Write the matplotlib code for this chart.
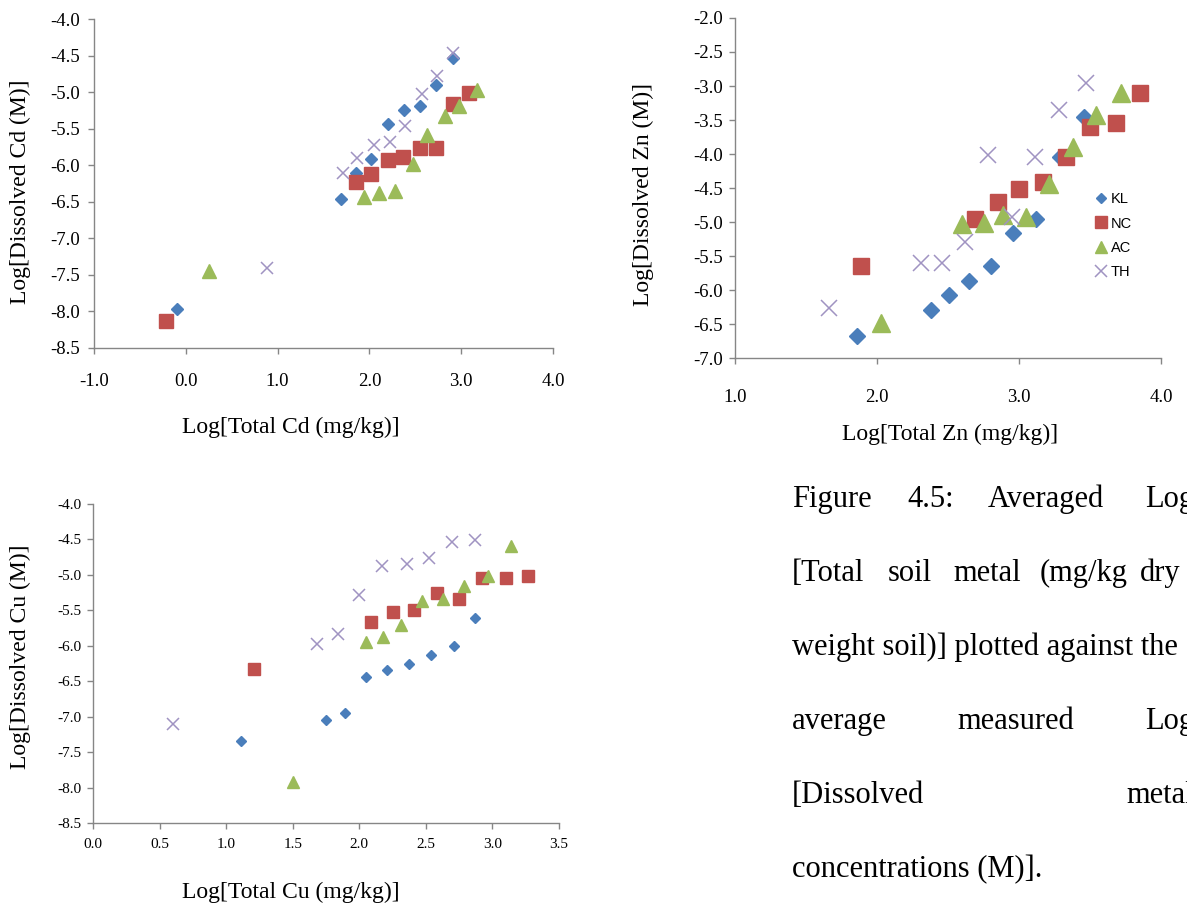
import matplotlib
matplotlib.use("Agg")
import matplotlib.pyplot as plt

# ---- data ----
# Cd panel
cd_kl_x = [-0.10, 1.69, 1.85, 2.02, 2.20, 2.38, 2.55, 2.73, 2.91]
cd_kl_y = [-7.97, -6.46, -6.11, -5.92, -5.44, -5.24, -5.19, -4.90, -4.54]
cd_nc_x = [-0.22, 1.85, 2.02, 2.20, 2.37, 2.55, 2.73, 2.91, 3.08]
cd_nc_y = [-8.13, -6.23, -6.12, -5.93, -5.89, -5.77, -5.77, -5.16, -5.01]
cd_ac_x = [0.25, 1.94, 2.11, 2.28, 2.47, 2.63, 2.82, 2.98, 3.17]
cd_ac_y = [-7.44, -6.44, -6.38, -6.35, -5.98, -5.59, -5.32, -5.19, -4.97]
cd_th_x = [0.88, 1.71, 1.87, 2.05, 2.22, 2.39, 2.57, 2.74, 2.91]
cd_th_y = [-7.40, -6.10, -5.90, -5.72, -5.68, -5.47, -5.03, -4.78, -4.47]

# Zn panel
zn_kl_x = [1.86, 2.38, 2.51, 2.65, 2.80, 2.96, 3.12, 3.29, 3.46]
zn_kl_y = [-6.67, -6.29, -6.07, -5.87, -5.65, -5.16, -4.95, -4.05, -3.45]
zn_nc_x = [1.89, 2.69, 2.85, 3.00, 3.17, 3.33, 3.50, 3.68, 3.85]
zn_nc_y = [-5.64, -4.96, -4.70, -4.52, -4.41, -4.04, -3.61, -3.54, -3.11]
zn_ac_x = [2.03, 2.60, 2.75, 2.89, 3.05, 3.21, 3.38, 3.54, 3.72]
zn_ac_y = [-6.48, -5.03, -5.02, -4.90, -4.92, -4.44, -3.90, -3.43, -3.10]
zn_th_x = [1.66, 2.31, 2.46, 2.62, 2.78, 2.95, 3.11, 3.28, 3.47]
zn_th_y = [-6.26, -5.60, -5.60, -5.29, -4.02, -4.92, -4.05, -3.36, -2.95]

# Cu panel
cu_kl_x = [1.11, 1.75, 1.89, 2.05, 2.21, 2.37, 2.54, 2.71, 2.87]
cu_kl_y = [-7.35, -7.05, -6.95, -6.44, -6.34, -6.26, -6.13, -6.00, -5.61]
cu_nc_x = [1.21, 2.09, 2.25, 2.41, 2.58, 2.75, 2.92, 3.10, 3.27]
cu_nc_y = [-6.33, -5.67, -5.52, -5.50, -5.26, -5.34, -5.04, -5.04, -5.02]
cu_ac_x = [1.50, 2.05, 2.18, 2.31, 2.47, 2.63, 2.79, 2.97, 3.14]
cu_ac_y = [-7.92, -5.94, -5.88, -5.70, -5.37, -5.34, -5.16, -5.02, -4.59]
cu_th_x = [0.60, 1.68, 1.84, 2.00, 2.17, 2.36, 2.52, 2.70, 2.87]
cu_th_y = [-7.10, -5.98, -5.84, -5.29, -4.87, -4.84, -4.76, -4.53, -4.51]

W, H = 1187, 908
SERIF = "Liberation Serif"
GREY = "#868686"
C_KL, C_NC, C_AC, C_TH = "#4a7ebb", "#c0504d", "#9bbb59", "#a093c2"

fig = plt.figure(figsize=(W / 100, H / 100), dpi=100)


def px_axes(l, t, r, b):
    return fig.add_axes([l / W, 1 - b / H, (r - l) / W, (b - t) / H])


def style(ax, xlim, ylim, xticks, yticks, fs, xpad, ypad):
    ax.set_xlim(*xlim)
    ax.set_ylim(*ylim)
    ax.set_xticks(xticks)
    ax.set_yticks(yticks)
    ax.set_xticklabels(["{:.1f}".format(v) for v in xticks], family=SERIF)
    ax.set_yticklabels(["{:.1f}".format(v) for v in yticks], family=SERIF)
    for s in ("top", "right"):
        ax.spines[s].set_visible(False)
    for s in ("left", "bottom"):
        ax.spines[s].set_color(GREY)
        ax.spines[s].set_linewidth(1.0)
    ax.tick_params(axis="both", direction="out", length=4, width=1, color=GREY,
                   labelsize=fs, labelcolor="black")
    ax.tick_params(axis="x", pad=xpad)
    ax.tick_params(axis="y", pad=ypad)
    ax.patch.set_alpha(0)


def draw(ax, kl, nc, ac, th, sq, tri, dia, xs):
    ax.plot(*kl, ls="none", marker="D", ms=dia, color=C_KL, mec=C_KL, label="KL", zorder=3)
    ax.plot(*nc, ls="none", marker="s", ms=sq, color=C_NC, mec=C_NC, label="NC", zorder=3)
    ax.plot(*ac, ls="none", marker="^", ms=tri, color=C_AC, mec=C_AC, label="AC", zorder=3)
    ax.plot(*th, ls="none", marker="x", ms=xs, mew=1.1, color=C_TH, label="TH", zorder=4)


# --- Cd ---
ax1 = px_axes(94, 19, 553, 348)
draw(ax1, (cd_kl_x, cd_kl_y), (cd_nc_x, cd_nc_y), (cd_ac_x, cd_ac_y), (cd_th_x, cd_th_y),
     sq=9.5, tri=10, dia=6.5, xs=8.5)
style(ax1, (-1, 4), (-8.5, -4.0), [-1, 0, 1, 2, 3, 4],
      [-4.0 - 0.5 * i for i in range(10)], 13.5, 14, 6)
fig.text(291 / W, 1 - 427 / H, "Log[Total Cd (mg/kg)]", family=SERIF, fontsize=17,
         ha="center", va="center")
fig.text(20 / W, 1 - 192 / H, "Log[Dissolved Cd (M)]", family=SERIF, fontsize=17,
         ha="center", va="center", rotation=90)

# --- Zn ---
ax2 = px_axes(735, 18, 1161, 358)
draw(ax2, (zn_kl_x, zn_kl_y), (zn_nc_x, zn_nc_y), (zn_ac_x, zn_ac_y), (zn_th_x, zn_th_y),
     sq=12, tri=12.5, dia=8, xs=12)
style(ax2, (1, 4), (-7.0, -2.0), [1, 2, 3, 4],
      [-2.0 - 0.5 * i for i in range(11)], 13.5, 18, 5)
fig.text(950 / W, 1 - 434 / H, "Log[Total Zn (mg/kg)]", family=SERIF, fontsize=17,
         ha="center", va="center")
fig.text(643 / W, 1 - 194 / H, "Log[Dissolved Zn (M)]", family=SERIF, fontsize=17,
         ha="center", va="center", rotation=90)
ax2.legend(loc="upper left", bbox_to_anchor=(1088 / W, 1 - 185 / H),
           bbox_transform=fig.transFigure, frameon=False, markerscale=0.7,
           handlelength=0.8, handletextpad=0.25, labelspacing=0.7,
           borderpad=0, prop={"family": "Liberation Sans", "size": 10.5})

# --- Cu ---
ax3 = px_axes(93, 504, 559, 823)
draw(ax3, (cu_kl_x, cu_kl_y), (cu_nc_x, cu_nc_y), (cu_ac_x, cu_ac_y), (cu_th_x, cu_th_y),
     sq=8.5, tri=8.5, dia=5.5, xs=8.5)
style(ax3, (0, 3.5), (-8.5, -4.0), [0.5 * i for i in range(8)],
      [-4.0 - 0.5 * i for i in range(10)], 11, 7, 4)
fig.text(291 / W, 1 - 892 / H, "Log[Total Cu (mg/kg)]", family=SERIF, fontsize=17,
         ha="center", va="center")
fig.text(20 / W, 1 - 657 / H, "Log[Dissolved Cu (M)]", family=SERIF, fontsize=17,
         ha="center", va="center", rotation=90)

# --- caption (justified lines, cut off at the right edge as in the source page) ---
caption_lines = [
    [(792, "Figure"), (907, "4.5:"), (988, "Averaged"), (1145, "Log")],
    [(792, "[Total"), (888, "soil"), (953, "metal"), (1040, "(mg/kg"), (1140, "dry")],
    [(792, "weight soil)] plotted against the")],
    [(792, "average"), (957, "measured"), (1145, "Log")],
    [(792, "[Dissolved"), (1126, "metal")],
    [(792, "concentrations (M)].")],
]
baselines = [507, 581, 655, 729, 803, 877]
for yb, words in zip(baselines, caption_lines):
    for xw, w in words:
        fig.text(xw / W, 1 - yb / H, w, family=SERIF, fontsize=22,
                 ha="left", va="baseline")

fig.savefig("out.png", dpi=100)
